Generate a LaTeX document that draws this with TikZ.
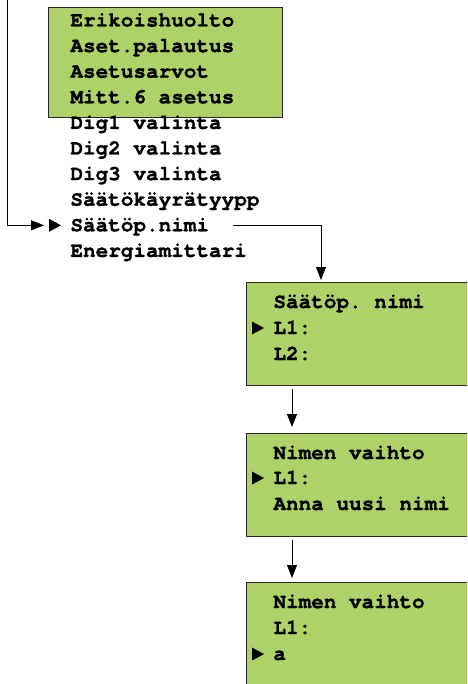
\documentclass[tikz,border=0pt]{standalone}
\usepackage{fontspec}
\setmonofont{texgyrecursor}[Extension=.otf,UprightFont=*-regular,BoldFont=*-bold,BoldFeatures={FakeBold=1.2}]
\usetikzlibrary{arrows.meta,calc}
\definecolor{lcdgreen}{RGB}{174,210,103}
\definecolor{lcdframe}{RGB}{40,40,40}

\tikzset{
  screen/.style={draw=lcdframe,fill=lcdgreen,line width=1pt,anchor=north west,inner sep=0pt},
  menuline/.style={anchor=base west,inner sep=0pt,font=\fontsize{21}{25}\ttfamily\bfseries},
}
\newcommand{\pointer}[1]{\fill ([shift={(-21pt,-0.5pt)}]#1.base west) -- ([shift={(-21pt,12.5pt)}]#1.base west) -- ([shift={(-9pt,6pt)}]#1.base west) -- cycle;}

\begin{document}
\begin{tikzpicture}[x=1pt,y=-1pt,>={Triangle[length=13pt,width=10pt]},line width=0.9pt]
    \useasboundingbox (0,0) rectangle (467,684);
    \clip (0,0) rectangle (467,684);
    \node[screen,minimum width=234pt,minimum height=110pt] (menu) at (48,7) {};
    \node[screen,minimum width=230pt,minimum height=103pt] (nimi) at (246,282) {};
    \node[screen,minimum width=230pt,minimum height=103pt] (vaihto) at (246,433) {};
    \node[screen,minimum width=230pt,minimum height=110pt] (uusi) at (246,582) {};
    \foreach \txt [count=\i] in {Erikoishuolto,Aset.palautus,Asetusarvot,Mitt.6 asetus,Dig1 valinta,Dig2 valinta,Dig3 valinta,Säätökäyrätyypp,Säätöp.nimi,Energiamittari}
        \node[menuline] (m\i) at (70,{26.5+25.6*(\i-1)}) {\txt};
    \node[menuline] (n1) at (273,308) {Säätöp. nimi};
    \node[menuline] (n2) at (273,334) {L1:};
    \node[menuline] (n3) at (273,360) {L2:};
    \node[menuline] (v1) at (273,459) {Nimen vaihto};
    \node[menuline] (v2) at (273,484) {L1:};
    \node[menuline] (v3) at (273,510) {Anna uusi nimi};
    \node[menuline] (u1) at (273,608) {Nimen vaihto};
    \node[menuline] (u2) at (273,634) {L1:};
    \node[menuline] (u3) at (273,660) {a};
    \pointer{m9}
    \pointer{n2}
    \pointer{v2}
    \pointer{u3}
    \coordinate (entry) at (7,-2);
    \draw[->] (entry) |- ([shift={(-26pt,6pt)}]m9.base west);
    \draw[->,shorten >=2pt] ([shift={(23pt,6pt)}]m9.base east) -| ([xshift=75pt]nimi.north west);
    \draw[->,shorten <=3pt,shorten >=6pt] ([xshift=46pt]nimi.south west) -- ([xshift=46pt]vaihto.north west);
    \draw[->,shorten <=3pt,shorten >=4pt] ([xshift=46pt]vaihto.south west) -- ([xshift=46pt]uusi.north west);
\end{tikzpicture}
\end{document}
